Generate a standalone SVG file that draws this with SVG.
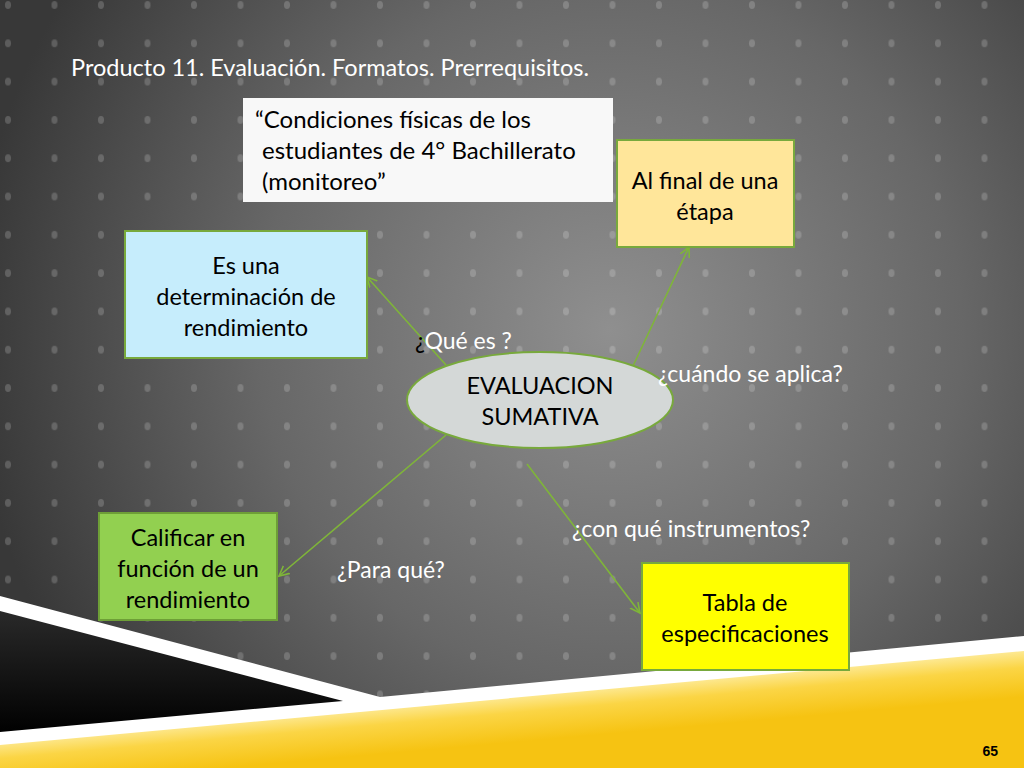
<svg xmlns="http://www.w3.org/2000/svg" width="1024" height="768" viewBox="0 0 1024 768">
<defs>
<radialGradient id="bg" cx="610" cy="330" r="640" gradientUnits="userSpaceOnUse">
<stop offset="0" stop-color="#8f8f8f"/>
<stop offset="0.55" stop-color="#676767"/>
<stop offset="1" stop-color="#383838"/>
</radialGradient>
<pattern id="dots" x="8" y="5" width="46.5" height="38.3" patternUnits="userSpaceOnUse">
<ellipse cx="0" cy="0" rx="3" ry="4" fill="#ffffff" fill-opacity="0.18"/>
<ellipse cx="46.5" cy="0" rx="3" ry="4" fill="#ffffff" fill-opacity="0.18"/>
<ellipse cx="0" cy="38.3" rx="3" ry="4" fill="#ffffff" fill-opacity="0.18"/>
<ellipse cx="46.5" cy="38.3" rx="3" ry="4" fill="#ffffff" fill-opacity="0.18"/>
</pattern>
<linearGradient id="yel" x1="512" y1="697" x2="516" y2="742" gradientUnits="userSpaceOnUse">
<stop offset="0" stop-color="#fde88f"/>
<stop offset="0.35" stop-color="#fbd545"/>
<stop offset="1" stop-color="#f6c312"/>
</linearGradient>
<linearGradient id="blk" x1="0" y1="610" x2="0" y2="735" gradientUnits="userSpaceOnUse">
<stop offset="0" stop-color="#2a2a2a"/>
<stop offset="1" stop-color="#000000"/>
</linearGradient>
<marker id="arr" markerWidth="12" markerHeight="12" refX="10" refY="5" orient="auto" markerUnits="userSpaceOnUse" viewBox="0 0 12 10">
<path d="M0,0 L10,5 L0,10" fill="none" stroke="#7fb539" stroke-width="1.6"/>
</marker>
<style>
text{font-family:Lato,"Open Sans","Liberation Sans",sans-serif;}
.w{fill:#ffffff;font-size:23px;}
.t{fill:#000000;font-size:23.5px;text-anchor:middle;}
.box{stroke:#78a93c;stroke-width:2;}
.conn{stroke:#7fb539;stroke-width:1.6;fill:none;marker-end:url(#arr);}
</style>
</defs>
<g id="background">
<rect x="0" y="0" width="1024" height="768" fill="url(#bg)"/>
<rect x="0" y="0" width="1024" height="768" fill="url(#dots)"/>
<polygon points="0,596 380,697 1024,636 1024,768 0,768" fill="#ffffff"/>
<polygon points="0,611 343,701 0,732" fill="url(#blk)"/>
<polygon points="0,745 1024,651 1024,768 0,768" fill="url(#yel)"/>
<text x="998" y="756" style="font-family:'Liberation Sans',sans-serif;font-weight:bold;font-size:14px;fill:#000;text-anchor:end">65</text>
</g>
<g id="title">
<text x="71" y="76" style="fill:#ffffff;font-size:23.5px">Producto 11. Evaluación. Formatos. Prerrequisitos.</text>
</g>
<g id="quote">
<rect x="243" y="98" width="370" height="104" fill="#f8f8f8"/>
<text x="255" y="128" style="fill:#000;font-size:24px">“Condiciones físicas de los</text>
<text x="262" y="159" style="fill:#000;font-size:24px">estudiantes de 4° Bachillerato</text>
<text x="262" y="190" style="fill:#000;font-size:24px">(monitoreo”</text>
</g>
<g id="connectors">
<line class="conn" x1="446" y1="365" x2="367" y2="277"/>
<line class="conn" x1="633" y1="366" x2="689" y2="247"/>
<line class="conn" x1="446" y1="435" x2="279" y2="576"/>
<line class="conn" x1="527" y1="464" x2="640" y2="613"/>
</g>
<g id="n-que-es">
<rect class="box" x="125" y="231" width="242" height="127" fill="#c6edfc"/>
<text class="t" x="246" y="274">Es una</text>
<text class="t" x="246" y="305">determinación de</text>
<text class="t" x="246" y="336">rendimiento</text>
</g>
<g id="n-final">
<rect class="box" x="617" y="140" width="177" height="107" fill="#ffe69a"/>
<text class="t" x="705" y="189">Al final de una</text>
<text class="t" x="705" y="220">étapa</text>
</g>
<g id="n-calificar">
<rect class="box" x="99" y="513" width="178" height="107" fill="#92d050" style="stroke:#6e9f37"/>
<text class="t" x="188" y="546">Calificar en</text>
<text class="t" x="188" y="577">función de un</text>
<text class="t" x="188" y="608">rendimiento</text>
</g>
<g id="n-tabla">
<rect class="box" x="642" y="563" width="207" height="107" fill="#ffff00"/>
<text class="t" x="745" y="611">Tabla de</text>
<text class="t" x="745" y="642">especificaciones</text>
</g>
<g id="n-center">
<ellipse cx="540" cy="400" rx="133" ry="48" fill="#d4d8d7" stroke="#78a93c" stroke-width="2"/>
<text class="t" x="540" y="394">EVALUACION</text>
<text class="t" x="540" y="425">SUMATIVA</text>
</g>
<g id="labels">
<text class="w" x="415" y="349"><tspan fill="#000000">¿</tspan>Qué es ?</text>
<text class="w" x="658" y="382">¿cuándo se aplica?</text>
<text class="w" x="572" y="537">¿con qué instrumentos?</text>
<text class="w" x="337" y="578">¿Para qué?</text>
</g>
</svg>
